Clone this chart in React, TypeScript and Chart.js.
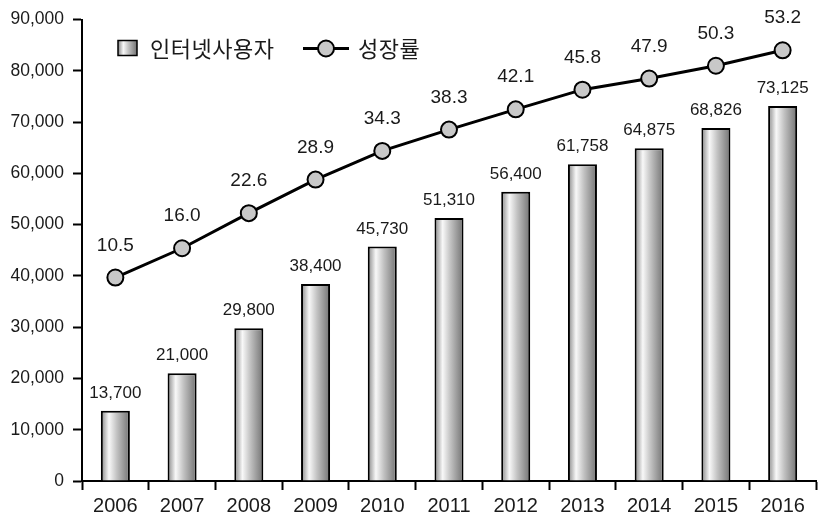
import React, { useEffect, useRef } from "react";
import { Chart, registerables } from "chart.js";

Chart.register(...registerables);

const years = ["2006", "2007", "2008", "2009", "2010", "2011", "2012", "2013", "2014", "2015", "2016"];
const users = [13700, 21000, 29800, 38400, 45730, 51310, 56400, 61758, 64875, 68826, 73125];
const growth = [10.5, 16.0, 22.6, 28.9, 34.3, 38.3, 42.1, 45.8, 47.9, 50.3, 53.2];
const barName = "인터넷사용자";
const lineName = "성장률";

const NUM_FONT = "'Liberation Sans', Arial, sans-serif";
const KR_FONT = "'Noto Sans CJK KR', sans-serif";
const TEXT = "#1a1a1a";

function cylGradient(c: CanvasRenderingContext2D, x0: number, x1: number) {
  const g = c.createLinearGradient(x0, 0, x1, 0);
  g.addColorStop(0, "#858585");
  g.addColorStop(0.28, "#f8f8f8");
  g.addColorStop(0.55, "#c2c2c2");
  g.addColorStop(1, "#727272");
  return g;
}

const BAR_PCT = 0.435;

const labelsPlugin = {
  id: "valueLabels",
  afterDatasetsDraw(chart: any) {
    const c = chart.ctx;
    c.save();
    c.fillStyle = TEXT;
    c.textAlign = "center";
    c.textBaseline = "alphabetic";
    const barMeta = chart.getDatasetMeta(0);
    c.font = `17px ${NUM_FONT}`;
    barMeta.data.forEach((el: any, i: number) => {
      c.fillText(users[i].toLocaleString("en-US"), el.x, el.y - 13);
    });
    const lineMeta = chart.getDatasetMeta(1);
    c.font = `19px ${NUM_FONT}`;
    lineMeta.data.forEach((el: any, i: number) => {
      c.fillText(growth[i].toFixed(1), el.x, el.y - 27);
    });
    c.restore();
  },
};

const legendPlugin = {
  id: "customLegend",
  afterDraw(chart: any) {
    const c = chart.ctx;
    const a = chart.chartArea;
    const bx = a.left + 36;
    const by = a.top + 21;
    c.save();
    c.fillStyle = cylGradient(c, bx, bx + 19);
    c.fillRect(bx, by, 19, 15);
    c.strokeStyle = "#000";
    c.lineWidth = 1.5;
    c.strokeRect(bx, by, 19, 15);
    c.fillStyle = TEXT;
    c.font = `22px ${KR_FONT}`;
    (c as any).letterSpacing = "0.5px";
    c.textBaseline = "middle";
    c.textAlign = "left";
    c.fillText(barName, bx + 32, by + 8);
    const lx = bx + 185;
    const ly = by + 8;
    c.beginPath();
    c.moveTo(lx, ly);
    c.lineTo(lx + 46, ly);
    c.lineWidth = 3;
    c.stroke();
    c.beginPath();
    c.arc(lx + 23, ly, 8, 0, Math.PI * 2);
    c.fillStyle = "#c8c8c8";
    c.fill();
    c.lineWidth = 2;
    c.stroke();
    c.fillStyle = TEXT;
    c.fillText(lineName, lx + 55, ly);
    c.restore();
  },
};

export default function App() {
  const ref = useRef<HTMLCanvasElement>(null);
  useEffect(() => {
    const canvas = ref.current!;
    const chart = new Chart(canvas, {
      type: "bar",
      data: {
        labels: years,
        datasets: [
          {
            type: "bar",
            label: barName,
            data: users,
            yAxisID: "y",
            order: 1,
            borderColor: "#000",
            borderWidth: 2,
            categoryPercentage: 1,
            barPercentage: BAR_PCT,
            backgroundColor: (ctx: any) => {
              const ch = ctx.chart;
              const xs = ch.scales?.x;
              if (!xs || ctx.type !== "data") return "#bbbbbb";
              const cx = xs.getPixelForValue(ctx.dataIndex);
              const w = (xs.width / years.length) * BAR_PCT;
              if (!Number.isFinite(cx) || !Number.isFinite(w) || w <= 0) return "#bbbbbb";
              return cylGradient(ch.ctx, cx - w / 2, cx + w / 2);
            },
          },
          {
            type: "line",
            label: lineName,
            data: growth,
            yAxisID: "y1",
            order: 0,
            borderColor: "#000",
            borderWidth: 3,
            pointRadius: 8,
            pointBackgroundColor: "#c8c8c8",
            pointBorderColor: "#000",
            pointBorderWidth: 2,
            tension: 0,
          },
        ],
      },
      options: {
        animation: false,
        responsive: false,
        layout: { padding: { top: 17, right: 11, left: 0, bottom: 0 } },
        plugins: { legend: { display: false }, tooltip: { enabled: false } },
        scales: {
          x: {
            grid: {
              offset: true,
              drawOnChartArea: false,
              drawTicks: true,
              tickLength: 9,
              tickColor: "#000",
              tickWidth: 2,
            },
            border: { display: true, color: "#000", width: 2 },
            ticks: { color: TEXT, font: { family: NUM_FONT, size: 20 }, padding: 4 },
            afterFit: (s: any) => {
              s.height = 50;
            },
          },
          y: {
            min: 0,
            max: 90000,
            ticks: {
              stepSize: 10000,
              color: TEXT,
              font: { family: NUM_FONT, size: 17.5 },
              padding: 9,
              callback: (v: any) => Number(v).toLocaleString("en-US"),
            },
            grid: {
              drawOnChartArea: false,
              drawTicks: true,
              tickLength: 9,
              tickColor: "#000",
              tickWidth: 2,
            },
            border: { display: true, color: "#000", width: 2 },
            afterFit: (s: any) => {
              s.width = 82;
            },
          },
          y1: {
            display: false,
            position: "right",
            min: -27.74,
            max: 58.99,
          },
        },
      },
      plugins: [labelsPlugin, legendPlugin],
    } as any);
    return () => chart.destroy();
  }, []);
  return (
    <div style={{ position: "fixed", left: 0, top: 0, width: 827, height: 531, background: "#fff" }}>
      <canvas ref={ref} width={827} height={531} style={{ display: "block" }} />
    </div>
  );
}
